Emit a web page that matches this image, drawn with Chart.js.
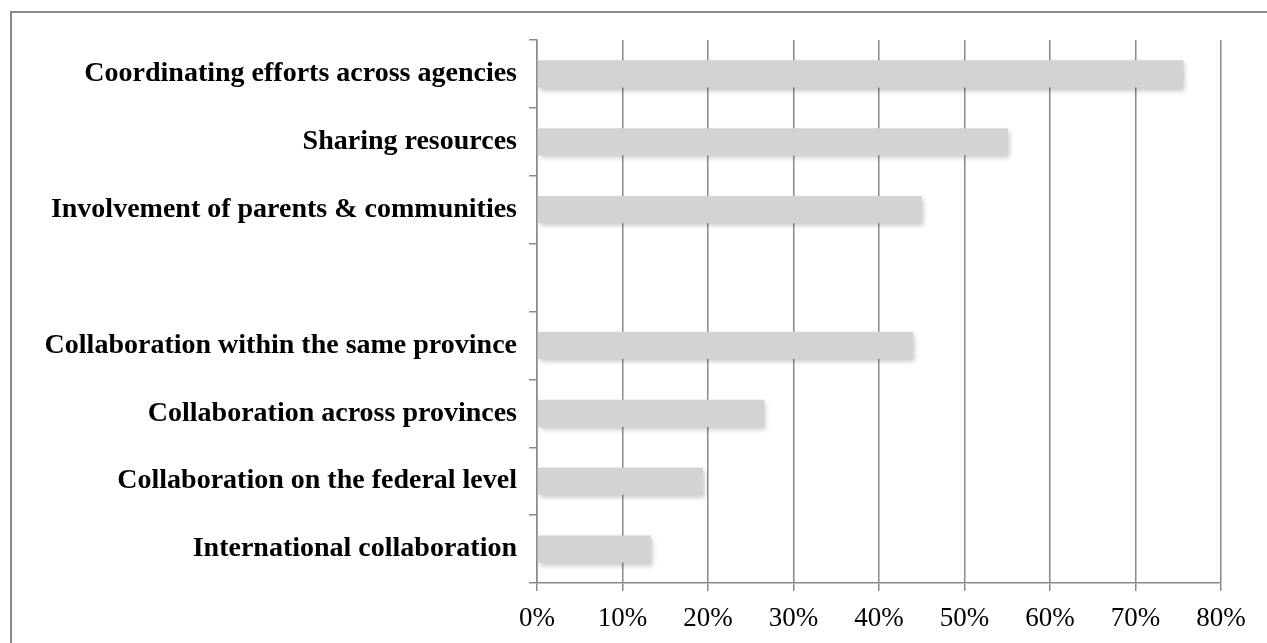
<!DOCTYPE html>
<html>
<head>
<meta charset="utf-8">
<script src="https://cdn.jsdelivr.net/npm/chart.js@4.4.1/dist/chart.umd.min.js"></script>
<style>
  html, body { margin: 0; padding: 0; background: #fff; }
  #wrap { position: relative; width: 1267px; height: 643px; }
</style>
</head>
<body>
<div id="wrap"><canvas id="chart" width="1267" height="643"></canvas></div>
<script>
// Categories, top to bottom (one empty slot in the reference)
const categories = [
    'Coordinating efforts across agencies',
    'Sharing resources',
    'Involvement of parents & communities',
    '',
    'Collaboration within the same province',
    'Collaboration across provinces',
    'Collaboration on the federal level',
    'International collaboration'
];

// Percent of respondents
const values = [75.6, 55.1, 45.0, null, 44.0, 26.6, 19.4, 13.3];

// X axis ticks
const xMin = 0;
const xMax = 80;
const xStep = 10;

const axisGray = '#8a8a8a';

// Soft drop shadow under the bars
const barShadow = {
    id: 'barShadow',
    beforeDatasetsDraw(chart) {
        const ctx = chart.ctx;
        ctx.save();
        ctx.shadowColor = 'rgba(0, 0, 0, 0.22)';
        ctx.shadowBlur = 5;
        ctx.shadowOffsetX = 2;
        ctx.shadowOffsetY = 3;
    },
    afterDatasetsDraw(chart) {
        chart.ctx.restore();
    }
};

// Outer frame of the picture
const frame = {
    id: 'frame',
    afterDraw(chart) {
        const ctx = chart.ctx;
        ctx.save();
        ctx.strokeStyle = axisGray;
        ctx.lineWidth = 2;
        ctx.strokeRect(11, 12, 1400, 800);
        ctx.restore();
    }
};

// Light top edge on each bar, darker bottom
function barFill(context) {
    const el = context.element;
    if (!el || el.y === undefined) return '#d3d3d3';
    const h = el.height || 27;
    const g = context.chart.ctx.createLinearGradient(0, el.y - h / 2, 0, el.y + h / 2);
    g.addColorStop(0, '#dedede');
    g.addColorStop(0.25, '#d4d4d4');
    g.addColorStop(1, '#cecece');
    return g;
}

const ctx = document.getElementById('chart').getContext('2d');
new Chart(ctx, {
    type: 'bar',
    data: {
        labels: categories,
        datasets: [{
            data: values,
            backgroundColor: barFill,
            borderWidth: 0,
            barPercentage: 0.4,
            categoryPercentage: 1.0
        }]
    },
    options: {
        indexAxis: 'y',
        responsive: false,
        animation: false,
        devicePixelRatio: 1,
        layout: { padding: { top: 40, right: 46, bottom: 0, left: 0 } },
        plugins: {
            legend: { display: false },
            tooltip: { enabled: false }
        },
        scales: {
            x: {
                min: xMin,
                max: xMax,
                ticks: {
                    stepSize: xStep,
                    color: '#000',
                    padding: 12,
                    font: { family: 'Liberation Serif', size: 27 },
                    callback: v => v + '%'
                },
                grid: {
                    color: axisGray,
                    lineWidth: 1.5,
                    tickLength: 8
                },
                border: { color: axisGray, width: 1.5 },
                afterFit(scale) { scale.height = 60; }
            },
            y: {
                ticks: {
                    color: '#000',
                    padding: 12,
                    font: { family: 'Liberation Serif', size: 28, weight: 'bold' }
                },
                grid: {
                    offset: true,
                    drawOnChartArea: false,
                    color: axisGray,
                    lineWidth: 1.5,
                    tickLength: 8
                },
                border: { color: axisGray, width: 1.5 },
                afterFit(scale) { scale.width = 537; }
            }
        }
    },
    plugins: [barShadow, frame]
});
</script>
</body>
</html>
